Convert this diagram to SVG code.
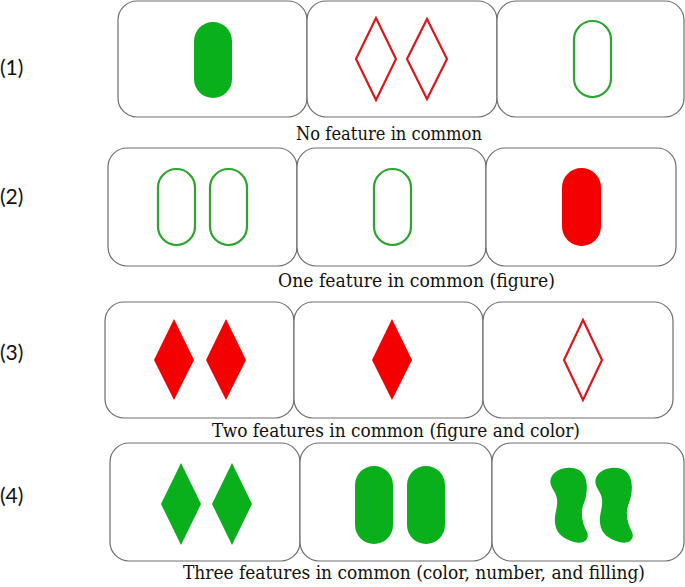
<svg xmlns="http://www.w3.org/2000/svg" width="685" height="587" viewBox="0 0 685 587">
<defs>
<style>
.card{fill:#fff;stroke:#6e6e6e;stroke-width:1.2}
.gf{fill:#0aaf1c}
.go{fill:none;stroke:#2ba52f;stroke-width:2.2}
.rf{fill:#f40000}
.ro{fill:none;stroke:#d8191c;stroke-width:2.2}
.cap{fill:#111;font-family:"DejaVu Serif",serif;font-size:19px}
.num{fill:#111;font-family:Lato,"Liberation Sans",sans-serif;font-size:21px}
</style>
<path id="sq" d="M1,11 C4,2 19,-2 29,3 C39,9 38,26 34,36 C30,45 32,56 37,65 C40,72 34,78 24,75 C14,72 6,67 5,56 C4,47 8,41 7,32 C6,24 -2,19 1,11 Z"/>
</defs>
<rect width="685" height="587" fill="#fff"/>

<g id="labels">
<text class="num" x="0" y="75">(1)</text>
<text class="num" x="0" y="204">(2)</text>
<text class="num" x="0" y="360">(3)</text>
<text class="num" x="0" y="503">(4)</text>
</g>

<g id="row1">
<g id="r1c1"><rect class="card" x="118" y="1" width="189" height="116" rx="19"/>
<rect class="gf" x="194" y="22" width="38" height="76" rx="19"/></g>
<g id="r1c2"><rect class="card" x="307" y="1" width="190" height="116" rx="19"/>
<polygon class="ro" points="376,18 396,59 376,100 356,59"/>
<polygon class="ro" points="427,19 447,59 427,99 407,59"/></g>
<g id="r1c3"><rect class="card" x="497" y="1" width="187" height="116" rx="19"/>
<rect class="go" x="574" y="21" width="37" height="76" rx="18.5"/></g>
<text class="cap" x="296" y="140" textLength="186" lengthAdjust="spacingAndGlyphs">No feature in common</text>
</g>

<g id="row2">
<g id="r2c1"><rect class="card" x="108" y="148" width="189" height="118" rx="19"/>
<rect class="go" x="158" y="169" width="37" height="76" rx="18.5"/>
<rect class="go" x="210" y="169" width="37" height="76" rx="18.5"/></g>
<g id="r2c2"><rect class="card" x="297" y="148" width="189" height="118" rx="19"/>
<rect class="go" x="374" y="169" width="37" height="76" rx="18.5"/></g>
<g id="r2c3"><rect class="card" x="486" y="148" width="190" height="118" rx="19"/>
<rect class="rf" x="562" y="168" width="39" height="78" rx="19.5"/></g>
<text class="cap" x="278" y="287" textLength="277" lengthAdjust="spacingAndGlyphs">One feature in common (figure)</text>
</g>

<g id="row3">
<g id="r3c1"><rect class="card" x="105" y="302" width="189" height="116" rx="19"/>
<polygon class="rf" points="174,319 194,360 174,400 154,360"/>
<polygon class="rf" points="226,319 246,360 226,400 206,360"/></g>
<g id="r3c2"><rect class="card" x="294" y="302" width="189" height="116" rx="19"/>
<polygon class="rf" points="392,319 412,360 392,400 372,360"/></g>
<g id="r3c3"><rect class="card" x="483" y="302" width="190" height="116" rx="19"/>
<polygon class="ro" points="583,320 602,360 583,400 564,360"/></g>
<text class="cap" x="212" y="437" textLength="368" lengthAdjust="spacingAndGlyphs">Two features in common (figure and color)</text>
</g>

<g id="row4">
<g id="r4c1"><rect class="card" x="110" y="443" width="190" height="118" rx="19"/>
<polygon class="gf" points="181,463 201,504 181,545 161,504"/>
<polygon class="gf" points="232,463 252,504 232,545 212,504"/></g>
<g id="r4c2"><rect class="card" x="300" y="443" width="192" height="118" rx="19"/>
<rect class="gf" x="355" y="466" width="38" height="78" rx="19"/>
<rect class="gf" x="407" y="466" width="38" height="78" rx="19"/></g>
<g id="r4c3"><rect class="card" x="492" y="443" width="192" height="118" rx="19"/>
<use href="#sq" class="gf" x="550" y="467"/>
<use href="#sq" class="gf" x="595" y="467"/></g>
<text class="cap" x="183" y="579" style="font-size:18.5px" textLength="462" lengthAdjust="spacingAndGlyphs">Three features in common (color, number, and filling)</text>
</g>
</svg>
